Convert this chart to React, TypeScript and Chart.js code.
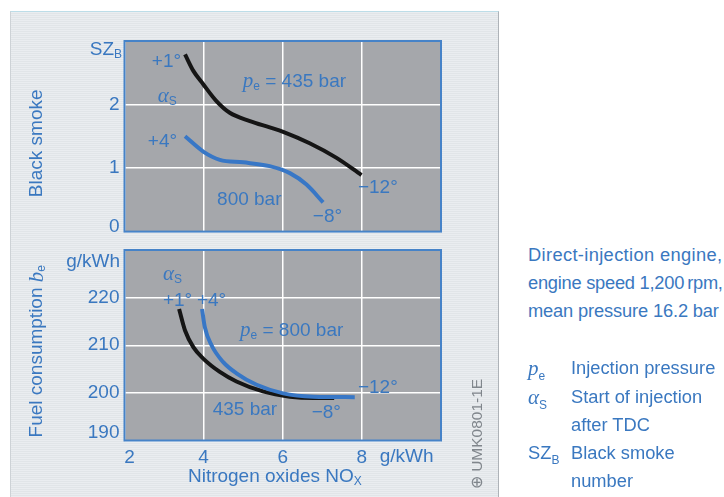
import React, { useEffect, useRef } from 'react';
import { Chart, registerables } from 'chart.js';

Chart.register(...registerables);

// ---------- data ----------
// Upper diagram: black smoke number SZ_B vs NOx (g/kWh)
const NOX_SMOKE_435 = [3.53, 3.74, 3.99, 4.33, 4.66, 5.17, 5.67, 6.01, 6.68, 7.36, 7.99];
const SMOKE_435 = [2.79, 2.53, 2.32, 2.05, 1.87, 1.74, 1.64, 1.57, 1.39, 1.16, 0.89];
const NOX_SMOKE_800 = [3.53, 3.99, 4.41, 5.0, 5.67, 6.18, 6.6, 7.02];
const SMOKE_800 = [1.5, 1.26, 1.13, 1.09, 1.03, 0.92, 0.74, 0.46];

// Lower diagram: fuel consumption b_e (g/kWh) vs NOx (g/kWh)
const NOX_FUEL_435 = [3.38, 3.53, 3.74, 3.99, 4.41, 4.83, 5.5, 6.18, 6.77, 7.3];
const FUEL_435 = [217.6, 213.1, 209.6, 207.2, 204.4, 202.4, 200.3, 199.2, 198.9, 198.9];
const NOX_FUEL_800 = [3.96, 4.03, 4.2, 4.49, 4.83, 5.34, 6.01, 6.77, 7.82];
const FUEL_800 = [217.6, 213.8, 210.0, 206.5, 204.1, 201.7, 199.9, 199.2, 199.1];

const NOX_RANGE = [2, 10];
const SMOKE_RANGE = [0, 3];
const FUEL_RANGE = [190, 230];

const NOTES = ['Direct-injection engine,', 'engine speed 1,200', 'mean pressure 16.2 bar'];
const NOTE_UNIT = 'rpm,';

// ---------- styles ----------
const SANS = '"Liberation Sans", Arial, Helvetica, sans-serif';
const SERIF = '"Liberation Serif", "DejaVu Serif", serif';
const BLUE_TEXT = '#3a78c0';
const BLUE_LINE = '#3877c6';
const BLACK_LINE = '#151515';
const PLOT_BG = '#a5a7ab';
const BORDER = '#4683c8';
const NOTE_SPACING = [0.35, -0.25, -0.15];
const F = (px: number) => `${px}px ${SANS}`;
const FI = (px: number) => `italic ${px}px ${SERIF}`;

type Seg = { t: string; f: string; dy?: number };
const txt = (t: string): Seg[] => [{ t, f: F(19) }];
const PE: Seg[] = [{ t: 'p', f: FI(21) }, { t: 'e', f: F(12), dy: 5 }];
const ALPHA_S: Seg[] = [{ t: '\u03b1', f: FI(21) }, { t: 'S', f: F(12), dy: 5 }];

const TOP_NOTES = [
  { x: 2.69, y: 2.68, segs: txt('+1°') },
  { x: 2.84, y: 2.12, segs: ALPHA_S },
  { x: 4.99, y: 2.36, segs: [...PE, { t: ' = 435 bar', f: F(19) }] },
  { x: 2.59, y: 1.41, segs: txt('+4°') },
  { x: 4.34, y: 0.5, segs: txt('800 bar') },
  { x: 7.9, y: 0.69, segs: txt('\u221212°') },
  { x: 6.76, y: 0.23, segs: txt('\u22128°') },
];

const BOTTOM_NOTES = [
  { x: 2.97, y: 224.9, segs: ALPHA_S },
  { x: 2.97, y: 219.3, segs: txt('+1°') },
  { x: 3.83, y: 219.3, segs: txt('+4°') },
  { x: 4.92, y: 213.0, segs: [...PE, { t: ' = 800 bar', f: F(19) }] },
  { x: 4.23, y: 196.4, segs: txt('435 bar') },
  { x: 6.73, y: 195.9, segs: txt('\u22128°') },
  { x: 7.9, y: 201.1, segs: txt('\u221212°') },
];

function drawRich(ctx: CanvasRenderingContext2D, segs: Seg[], x: number, y: number, align: 'left' | 'center' | 'right' = 'left') {
  ctx.save();
  ctx.textBaseline = 'middle';
  ctx.textAlign = 'left';
  let w = 0;
  for (const s of segs) {
    ctx.font = s.f;
    w += ctx.measureText(s.t).width;
  }
  let cx = align === 'left' ? x : align === 'center' ? x - w / 2 : x - w;
  for (const s of segs) {
    ctx.font = s.f;
    ctx.fillText(s.t, cx, y + (s.dy || 0));
    cx += ctx.measureText(s.t).width;
  }
  ctx.restore();
}

function decoPlugin(notes: { x: number; y: number; segs: Seg[] }[], extra: (chart: any) => void) {
  return {
    id: 'deco',
    beforeDraw(chart: any) {
      const { ctx, chartArea: a } = chart;
      ctx.save();
      ctx.fillStyle = PLOT_BG;
      ctx.fillRect(a.left, a.top, a.right - a.left, a.bottom - a.top);
      ctx.restore();
    },
    afterDraw(chart: any) {
      const { ctx, chartArea: a, scales } = chart;
      ctx.save();
      ctx.strokeStyle = BORDER;
      ctx.lineWidth = 2;
      ctx.strokeRect(a.left, a.top, a.right - a.left, a.bottom - a.top);
      ctx.fillStyle = BLUE_TEXT;
      for (const n of notes) {
        drawRich(ctx, n.segs, scales.x.getPixelForValue(n.x), scales.y.getPixelForValue(n.y), 'left');
      }
      extra(chart);
      ctx.restore();
    },
  };
}

const gridOpts = { color: '#ffffff', lineWidth: 1.5, drawTicks: false };

function fixY(s: any) {
  s.width = 124.5;
  s.paddingTop = 0;
  s.paddingBottom = 0;
}
function fixX(h: number) {
  return (s: any) => {
    s.height = h;
    s.paddingLeft = 0;
    s.paddingRight = 0;
  };
}

function lineSet(xs: number[], ys: number[], color: string) {
  return {
    data: xs.map((x, i) => ({ x, y: ys[i] })),
    borderColor: color,
    borderWidth: 4,
    pointRadius: 0,
    fill: false,
    cubicInterpolationMode: 'monotone' as const,
    borderCapStyle: 'butt' as const,
  };
}

export default function App() {
  const topRef = useRef<HTMLCanvasElement>(null);
  const botRef = useRef<HTMLCanvasElement>(null);

  useEffect(() => {
    const topChart = new Chart(topRef.current!, {
      type: 'line',
      data: {
        datasets: [lineSet(NOX_SMOKE_435, SMOKE_435, BLACK_LINE), lineSet(NOX_SMOKE_800, SMOKE_800, BLUE_LINE)],
      },
      options: {
        animation: false,
        responsive: false,
        devicePixelRatio: 1,
        layout: { padding: { left: 0, top: 41, right: 59, bottom: 10.4 } },
        plugins: { legend: { display: false }, tooltip: { enabled: false } },
        scales: {
          x: {
            type: 'linear',
            min: NOX_RANGE[0],
            max: NOX_RANGE[1],
            ticks: { display: false, stepSize: 2 },
            grid: gridOpts,
            border: { display: false },
            afterFit: fixX(0),
          },
          y: {
            type: 'linear',
            min: SMOKE_RANGE[0],
            max: SMOKE_RANGE[1],
            ticks: {
              stepSize: 1,
              padding: 5,
              color: BLUE_TEXT,
              font: { family: SANS, size: 19 },
              callback: (v: any) => (v === 0 || v === 3 ? '' : String(v)),
            },
            grid: gridOpts,
            border: { display: false },
            afterFit: fixY,
          },
        },
      } as any,
      plugins: [
        decoPlugin(TOP_NOTES, (chart: any) => {
          const { ctx, chartArea: a, scales } = chart;
          ctx.fillStyle = BLUE_TEXT;
          drawRich(ctx, [{ t: 'SZ', f: F(19) }, { t: 'B', f: F(12), dy: 5 }], a.left - 2.5, a.top + 9, 'right');
          drawRich(ctx, txt('0'), a.left - 5, scales.y.getPixelForValue(0) - 5, 'right');
          ctx.save();
          ctx.translate(a.left - 87.5, (a.top + a.bottom) / 2 + 7);
          ctx.rotate(-Math.PI / 2);
          drawRich(ctx, txt('Black smoke'), 0, 0, 'center');
          ctx.restore();
        }),
      ],
    });

    const botChart = new Chart(botRef.current!, {
      type: 'line',
      data: {
        datasets: [lineSet(NOX_FUEL_800, FUEL_800, BLUE_LINE), lineSet(NOX_FUEL_435, FUEL_435, BLACK_LINE)],
      },
      options: {
        animation: false,
        responsive: false,
        devicePixelRatio: 1,
        layout: { padding: { left: 0, top: 8, right: 59, bottom: 26.5 } },
        plugins: { legend: { display: false }, tooltip: { enabled: false } },
        scales: {
          x: {
            type: 'linear',
            min: NOX_RANGE[0],
            max: NOX_RANGE[1],
            ticks: {
              stepSize: 2,
              padding: 6,
              color: BLUE_TEXT,
              font: { family: SANS, size: 19 },
              maxRotation: 0,
              callback: (v: any) => (v === 10 || v === 2 ? '' : String(v)),
            },
            grid: gridOpts,
            border: { display: false },
            afterFit: fixX(30),
          },
          y: {
            type: 'linear',
            min: FUEL_RANGE[0],
            max: FUEL_RANGE[1],
            ticks: {
              stepSize: 10,
              padding: 5,
              color: BLUE_TEXT,
              font: { family: SANS, size: 19 },
              callback: (v: any) => (v === 190 || v === 230 ? '' : String(v)),
            },
            grid: gridOpts,
            border: { display: false },
            afterFit: fixY,
          },
        },
      } as any,
      plugins: [
        decoPlugin(BOTTOM_NOTES, (chart: any) => {
          const { ctx, chartArea: a, scales } = chart;
          ctx.fillStyle = BLUE_TEXT;
          drawRich(ctx, txt('g/kWh'), a.left - 4.5, a.top + 12, 'right');
          drawRich(ctx, txt('190'), a.left - 5, scales.y.getPixelForValue(190) - 7.5, 'right');
          drawRich(ctx, txt('2'), scales.x.getPixelForValue(2) + 5, a.bottom + 17, 'center');
          drawRich(ctx, txt('g/kWh'), scales.x.getPixelForValue(8.45), a.bottom + 16.5, 'left');
          drawRich(
            ctx,
            [{ t: 'Nitrogen oxides NO', f: F(19) }, { t: 'X', f: F(12), dy: 5 }],
            scales.x.getPixelForValue(5.8),
            a.bottom + 36.5,
            'center'
          );
          ctx.save();
          ctx.translate(a.left - 87.5, (a.top + a.bottom) / 2 + 6);
          ctx.rotate(-Math.PI / 2);
          drawRich(
            ctx,
            [{ t: 'Fuel consumption ', f: F(19) }, { t: 'b', f: FI(21) }, { t: 'e', f: F(12), dy: 5 }],
            0,
            0,
            'center'
          );
          ctx.restore();
        }),
      ],
    });

    return () => {
      topChart.destroy();
      botChart.destroy();
    };
  }, []);

  const textStyle: React.CSSProperties = {
    position: 'absolute',
    fontFamily: SANS,
    fontSize: 18.3,
    lineHeight: '28px',
    height: 28,
    color: BLUE_TEXT,
    whiteSpace: 'nowrap',
  };
  const symStyle: React.CSSProperties = { fontFamily: SERIF, fontStyle: 'italic', fontSize: 21 };
  const subStyle: React.CSSProperties = { fontSize: 12, position: 'relative', top: 5 };

  const legendRows: { sym: React.ReactNode; text: string }[] = [
    { sym: (<><span style={symStyle}>p</span><span style={subStyle}>e</span></>), text: 'Injection pressure' },
    { sym: (<><span style={symStyle}>{'\u03b1'}</span><span style={subStyle}>S</span></>), text: 'Start of injection' },
    { sym: null, text: 'after TDC' },
    { sym: (<><span>SZ</span><span style={subStyle}>B</span></>), text: 'Black smoke' },
    { sym: null, text: 'number' },
  ];

  return (
    <div style={{ position: 'absolute', left: 0, top: 0, width: 724, height: 497, background: '#ffffff', overflow: 'hidden' }}>
      <div
        style={{
          position: 'absolute',
          left: 10,
          top: 11,
          width: 487,
          height: 490,
          background: 'repeating-linear-gradient(0deg, #e1e5e8 0px, #e1e5e8 1px, #eaedf0 1px, #eaedf0 2px)',
          borderTop: '1px solid #bcdde8',
          borderLeft: '1px solid #cdd2d6',
          borderRight: '1px solid #aeb3b8',
        }}
      />
      <canvas ref={topRef} width={500} height={242} style={{ position: 'absolute', left: 0, top: 0, width: 500, height: 242 }} />
      <canvas ref={botRef} width={500} height={255} style={{ position: 'absolute', left: 0, top: 242, width: 500, height: 255 }} />
      <div
        style={{
          position: 'absolute',
          left: 477,
          top: 434,
          transform: 'translate(-50%, -50%) rotate(-90deg)',
          fontFamily: SANS,
          fontSize: 15.5,
          color: '#80868c',
          whiteSpace: 'nowrap',
        }}
      >
        {'\u2295 UMK0801-1E'}
      </div>
      {NOTES.map((t, i) => (
        <div key={t} style={{ ...textStyle, left: 528, top: 241.4 + i * 28, letterSpacing: NOTE_SPACING[i] }}>
          {t}
          {i === 1 && <span style={{ marginLeft: 3 }}>{NOTE_UNIT}</span>}
        </div>
      ))}
      {legendRows.map((r, i) => (
        <React.Fragment key={r.text}>
          {r.sym && <div style={{ ...textStyle, left: 528, top: 354.4 + i * 28.2 }}>{r.sym}</div>}
          <div style={{ ...textStyle, left: 571, top: 354.4 + i * 28.2 }}>{r.text}</div>
        </React.Fragment>
      ))}
    </div>
  );
}
